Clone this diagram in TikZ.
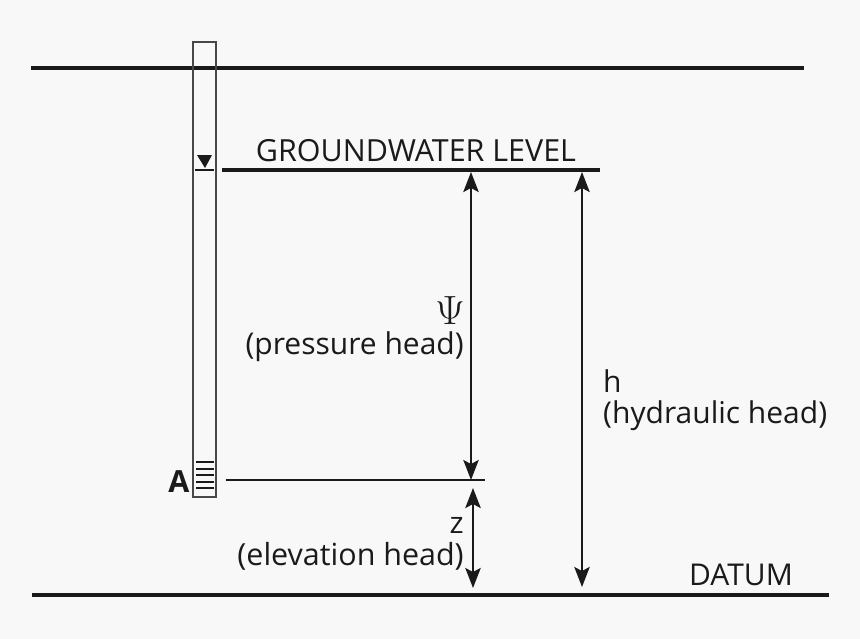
\documentclass[tikz,border=0pt]{standalone}
\usepackage{fontspec}
\setmainfont{Open Sans}
\usetikzlibrary{arrows.meta,positioning}
\definecolor{paper}{HTML}{F8F8F8}
\definecolor{ink}{HTML}{1A1A1A}
\tikzset{
	heavyline/.style={draw=ink,line width=.11cm},
	thinline/.style={draw=ink,line width=.07cm},
	wellline/.style={draw=ink!80,line width=.06cm},
	hatchline/.style={draw=ink,line width=.06cm},
	headarrow/.style={draw=ink,line width=.07cm,{Stealth[length=.6cm,width=.46cm,inset=.12cm]}-{Stealth[length=.6cm,width=.46cm,inset=.12cm]}},
	label/.style={inner sep=0pt,font=\fontsize{25.6}{26}\selectfont,text=ink}
}
\begin{document}
\begin{tikzpicture}[x=.03cm,y=-.03cm]
	\path[fill=paper] (0,0) rectangle (860,639);
	\useasboundingbox (0,0) rectangle (860,639);
	% ground surface, water level and datum
	\coordinate (surfaceL) at (31,68);
	\coordinate (surfaceR) at (804,68);
	\coordinate (waterL) at (222,170);
	\coordinate (waterR) at (600,170);
	\coordinate (datumL) at (32,595);
	\coordinate (datumR) at (829,595);
	\coordinate (pointL) at (226,480);
	\coordinate (pointR) at (485,480);
	\draw[heavyline] (surfaceL) -- (surfaceR);
	\draw[heavyline] (waterL) -- (waterR);
	\draw[heavyline] (datumL) -- (datumR);
	\draw[thinline] (pointL) -- (pointR);
	% piezometer
	\draw[wellline] (193,42) rectangle (216,497);
	\draw[hatchline] (195,170) -- (214,170);
	\fill[ink] (197,155) -- (212,155) -- (205,168) -- cycle;
	\foreach \y in {462,468.5,475,481.5,488} \draw[hatchline] (196,\y) -- (214,\y);
	\node[label,font=\fontsize{26}{26}\selectfont\bfseries] (A) at (179,482) {A};
	% arrows
	\coordinate (psiT) at (471,172);
	\coordinate (psiB) at (471,480);
	\coordinate (zT) at (473,488);
	\coordinate (zB) at (473,588);
	\coordinate (hT) at (582,172);
	\coordinate (hB) at (582,587);
	\draw[headarrow] (psiT) -- (psiB);
	\draw[headarrow] (zT) -- (zB);
	\draw[headarrow] (hT) -- (hB);
	% labels
	\node[label,font=\fontsize{26}{26}\selectfont] (water) at (416,151) {GROUNDWATER LEVEL};
	\node[label] (datum) at (741,575) {DATUM};
	\node[label,anchor=east,scale=1.4] (psi) at (465,311) {$\Psi$};
	\node[label,anchor=east] (psitext) at (464,347) {(pressure head)};
	\node[label,anchor=east] (z) at (464,525) {z};
	\node[label,anchor=east,font=\fontsize{26}{26}\selectfont] (ztext) at (464,556) {(elevation head)};
	\node[label,anchor=west] (h) at (603,381) {h};
	\node[label,anchor=west] (htext) at (603,416) {(hydraulic head)};
\end{tikzpicture}
\end{document}
